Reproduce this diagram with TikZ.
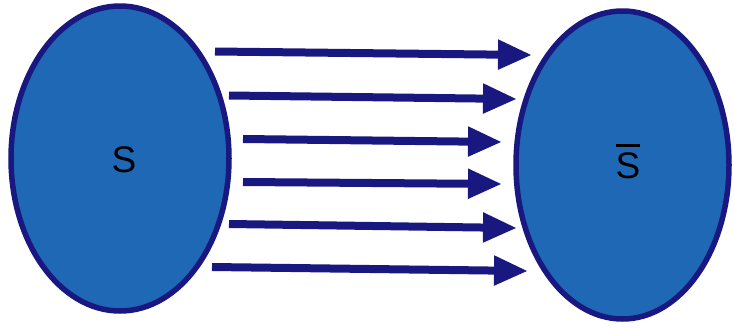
\documentclass[tikz,border=0pt]{standalone}
\usepackage{fontspec}
\setmainfont{Liberation Sans}
\usetikzlibrary{arrows.meta,shapes.geometric}
\definecolor{setfill}{RGB}{30,104,182}
\definecolor{navy}{RGB}{24,24,128}
\tikzset{
  setbox/.style={ellipse, fill=setfill, draw=navy, line width=5.5pt, inner sep=0pt},
  maparrow/.style={navy, line width=8pt, -{Triangle[length=34pt,width=28pt]}},
  setlabel/.style={font=\fontsize{37}{42}\selectfont, text=black, inner sep=0pt}
}
\begin{document}
\begin{tikzpicture}[x=1pt,y=-1pt]
\useasboundingbox (0,0) rectangle (734,327);
\node[setbox, minimum width=218pt, minimum height=305pt] (A) at (120,158.5) {};
\node[setbox, minimum width=213pt, minimum height=308pt] (B) at (622.5,165) {};
\node[setlabel, anchor=center] (la) at (124,160) {S};
\node[setlabel, anchor=center] (lb) at (628,166) {S};
\draw[black, line width=2.6pt] ([xshift=0.5pt,yshift=7pt]lb.north west) -- ([xshift=-0.5pt,yshift=7pt]lb.north east);
\coordinate (s1) at (215,51.5); \coordinate (t1) at (532,55);
\coordinate (s2) at (229,95.5); \coordinate (t2) at (517,99);
\coordinate (s3) at (243,139);  \coordinate (t3) at (502,142);
\coordinate (s4) at (243,182);  \coordinate (t4) at (502,184);
\coordinate (s5) at (229,224);  \coordinate (t5) at (517,228);
\coordinate (s6) at (212,267);  \coordinate (t6) at (528,271);
\foreach \i in {1,...,6} \draw[maparrow] (s\i) -- (t\i);
\end{tikzpicture}
\end{document}
